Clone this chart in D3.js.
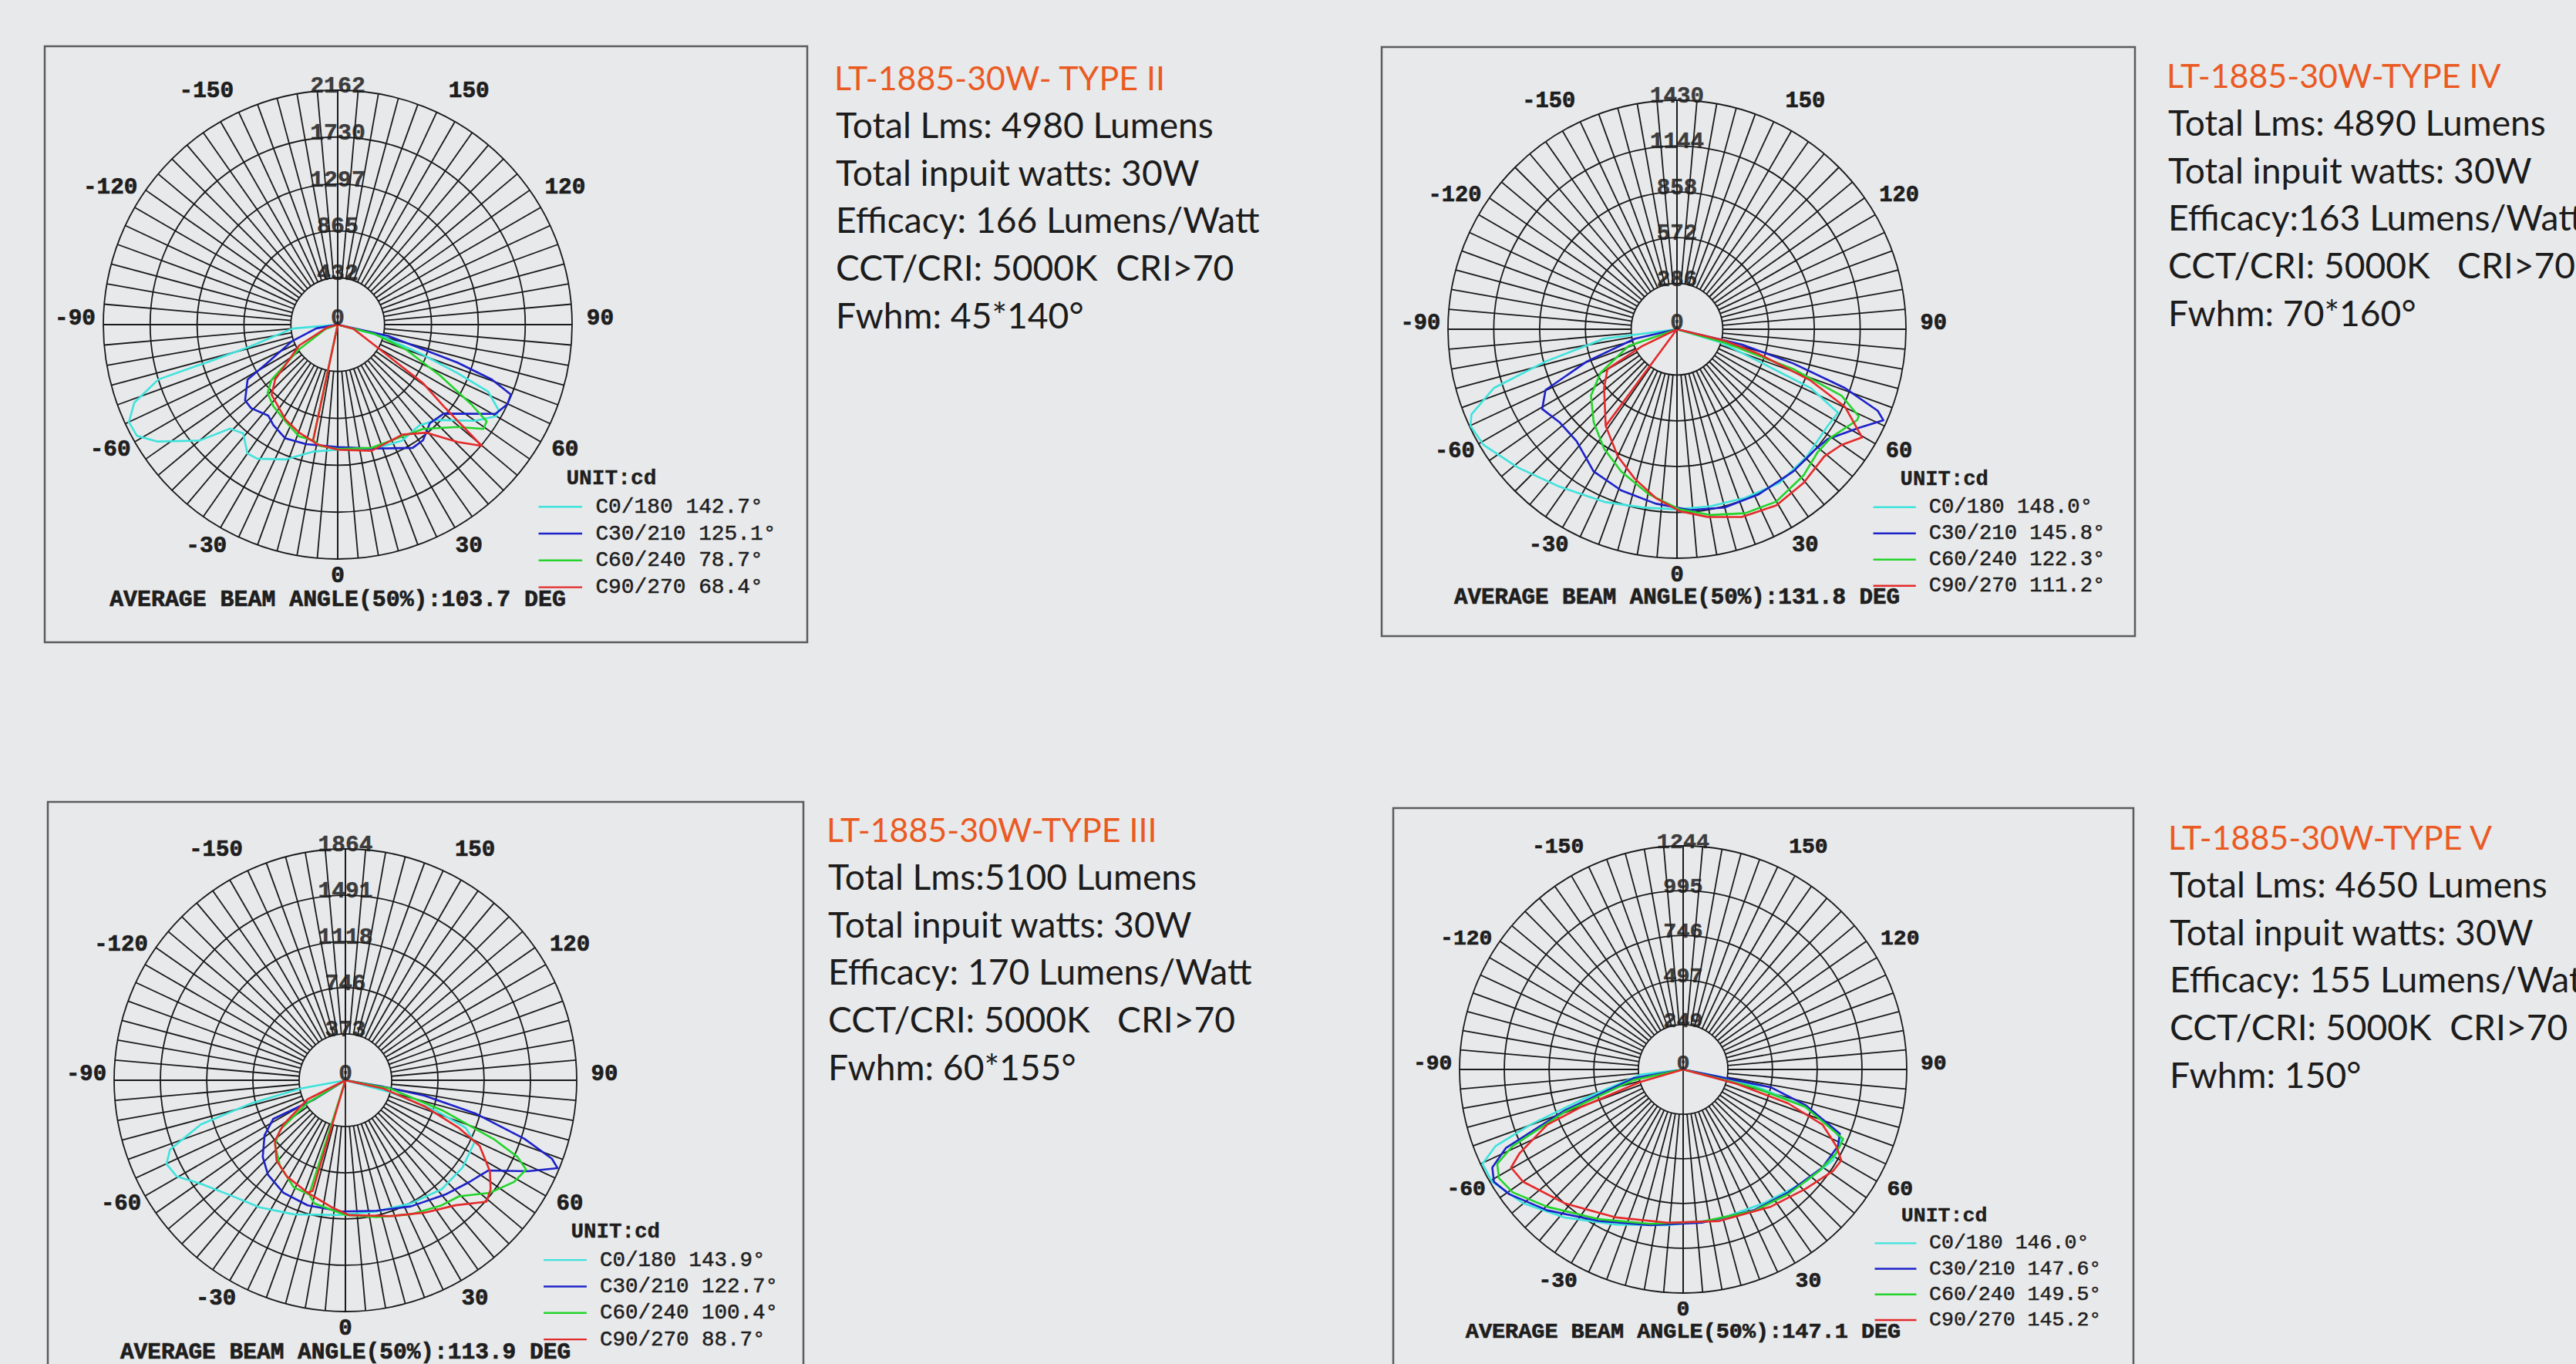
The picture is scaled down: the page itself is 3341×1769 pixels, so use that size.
<!DOCTYPE html>
<html><head><meta charset="utf-8">
<script src="https://cdn.jsdelivr.net/npm/d3@7"></script>
<style>
html,body{margin:0;padding:0;background:#e8e9eb;}
svg{display:block;}
</style>
</head><body>
<svg id="chart" width="3341" height="1769"></svg>
<script>
// ---------------- DATA ----------------
const titles = ["LT-1885-30W- TYPE II", "LT-1885-30W-TYPE IV", "LT-1885-30W-TYPE III", "LT-1885-30W-TYPE V"];
const specLinesII  = ["Total Lms: 4980 Lumens", "Total inpuit watts: 30W", "Efficacy: 166 Lumens/Watt", "CCT/CRI: 5000K  CRI>70", "Fwhm: 45*140°"];
const specLinesIV  = ["Total Lms: 4890 Lumens", "Total inpuit watts: 30W", "Efficacy:163 Lumens/Watt", "CCT/CRI: 5000K   CRI>70", "Fwhm: 70*160°"];
const specLinesIII = ["Total Lms:5100 Lumens", "Total inpuit watts: 30W", "Efficacy: 170 Lumens/Watt", "CCT/CRI: 5000K   CRI>70", "Fwhm: 60*155°"];
const specLinesV   = ["Total Lms: 4650 Lumens", "Total inpuit watts: 30W", "Efficacy: 155 Lumens/Watt", "CCT/CRI: 5000K  CRI>70", "Fwhm: 150°"];

const maxValues = [2162, 1430, 1864, 1244];
const ringLabelsII  = [432, 865, 1297, 1730, 2162];
const ringLabelsIV  = [286, 572, 858, 1144, 1430];
const ringLabelsIII = [373, 746, 1118, 1491, 1864];
const ringLabelsV   = [249, 497, 746, 995, 1244];
const angleTicks = [-150, -120, -90, -60, -30, 0, 30, 60, 90, 120, 150];

const seriesNames = ["C0/180", "C30/210", "C60/240", "C90/270"];
const beamII  = [142.7, 125.1, 78.7, 68.4];
const beamIV  = [148.0, 145.8, 122.3, 111.2];
const beamIII = [143.9, 122.7, 100.4, 88.7];
const beamV   = [146.0, 147.6, 149.5, 145.2];
const averageBeam = [103.7, 131.8, 113.9, 147.1];

// [gamma (deg, 0 = down, + = right), intensity cd]
const typeII_C0 = [[-90,0],[-85,420],[-76,830],[-74,1230],[-73,1730],[-69,2010],[-65,2125],[-61,2117],[-57,1980],[-50,1664],[-46,1381],[-41,1329],[-35,1451],[-31,1443],[-21,1332],[-11,1193],[0,1154],[15,1195],[29,1223],[39,1196],[46,1266],[55,1547],[60,1688],[62,1681],[66,1519],[68,1188],[70.5,836],[75.5,418],[90,0]];
const typeII_C30 = [[-90,0],[-80,200],[-70,450],[-61,767],[-58.6,974],[-50.7,1104],[-46,1110],[-37.4,1056],[-32.6,1101],[-24.7,1155],[-14.8,1140],[0,1130],[16.7,1194],[31.3,1331],[36.4,1326],[43,1245],[50,1277],[60.5,1671],[64.8,1728],[68,1723],[70.4,1510],[72.4,1159],[77.4,481],[90,0]];
const typeII_C60 = [[-12,0],[-12,1091],[-19,1091],[-28.4,1014],[-38.3,958],[-45.8,903],[-50.2,793],[-57.4,422],[-70,120],[-90,0],[90,0],[75.7,354],[70,669],[63.5,1057],[59.2,1434],[57,1639],[54.4,1652],[49.5,1454],[39.3,1243],[30,1192],[15.3,1178],[0,1147],[-8.4,1131],[-12,1091]];
const typeII_C90 = [[-12,0],[-12,1100],[-19.6,1058],[-28.9,999],[-43.3,889],[-48.7,768],[-61.6,404],[-75,100],[-90,0],[90,0],[75,150],[60.7,393],[55.5,956],[52.4,1233],[49.9,1736],[45.6,1548],[39.4,1290],[30.5,1177],[15,1205],[0,1154],[-10,1119],[-12,1100]];

const typeIV_C0 = [[-90,0],[-82.6,459],[-76.2,845],[-72.2,1201],[-67.5,1389],[-64.9,1424],[-59.1,1407],[-49,1316],[-36.8,1227],[-22.9,1170],[-11.1,1134],[0,1125],[10.8,1125],[22,1136],[33.7,1153],[45.7,1135],[57.3,1118],[62.6,1133],[66.3,911],[68.5,550],[73.2,287],[90,0]];
const typeIV_C30 = [[-90,0],[-77.3,269],[-70.3,598],[-65.2,904],[-59.4,978],[-51.7,936],[-41.9,939],[-30.4,1029],[-19.1,1065],[-7,1097],[4.1,1132],[14.9,1152],[26.4,1150],[39.3,1147],[48.5,1143],[53.9,1165],[61.5,1291],[66.2,1409],[67.9,1353],[70.7,1111],[73.6,757],[76.8,415],[90,0]];
const typeIV_C60 = [[-90,0],[-70.8,323],[-60.3,549],[-52.4,678],[-41.9,779],[-31.4,874],[-21.4,954],[-9.7,1045],[0.9,1125],[10.3,1179],[20.3,1225],[29.9,1242],[41,1207],[48.7,1167],[55,1176],[63.2,1260],[64.4,1259],[68,1108],[71.1,768],[74.4,308],[90,0]];
const typeIV_C90 = [[-36,0],[-36.4,750],[-51.1,585],[-60.2,500],[-64.1,244],[-90,0],[90,0],[76.6,305],[73.2,534],[69,893],[65.2,1156],[59.7,1339],[54.9,1256],[49.2,1215],[39.5,1243],[29.4,1263],[19,1240],[9.2,1187],[0.9,1136],[-7.2,1062],[-15.7,971],[-25,875],[-36.4,750]];

const typeIII_C0 = [[-90,0],[-79.5,367],[-76.3,771],[-73,1218],[-68.4,1521],[-64.9,1592],[-60.3,1565],[-54.4,1433],[-45.7,1318],[-34.1,1236],[-21.1,1158],[-2.9,1087],[13.3,1087],[27.9,1124],[41.5,1172],[53.3,1177],[64.3,1154],[68.4,1044],[71.6,760],[75.1,373],[90,0]];
const typeIII_C30 = [[-90,0],[-58.4,293],[-61.8,661],[-55.8,788],[-47.2,908],[-39.3,985],[-28.9,1035],[-16.8,1053],[-1.5,1058],[13.4,1081],[27.4,1145],[41.1,1223],[50.6,1292],[57.7,1361],[63.5,1643],[67.5,1850],[69.2,1780],[71.9,1517],[75.6,1088],[79,650],[80.3,310],[90,0]];
const typeIII_C60 = [[-17.6,0],[-17.6,966],[-25.7,958],[-37.4,868],[-47.8,767],[-52.8,661],[-59.1,355],[-90,0],[90,0],[79.5,367],[72.8,813],[68.4,1283],[66,1518],[63.7,1624],[58.9,1587],[52.1,1476],[44.4,1309],[37.6,1272],[26,1202],[12.8,1131],[0,1086],[-14.1,1024],[-17.6,966]];
const typeIII_C90 = [[-16.5,0],[-16.5,930],[-18.6,956],[-31.3,908],[-40.6,852],[-49.4,748],[-54.5,613],[-63.3,342],[-90,0],[90,0],[77.7,312],[71.7,672],[67.2,993],[63.9,1205],[57.8,1376],[53.1,1463],[49.3,1500],[41.4,1343],[30.9,1243],[18.2,1153],[1.5,1087],[-6.2,1029],[-18.6,956]];

const typeV_C0 = [[-90,0],[-83,241],[-73.4,590],[-70.1,906],[-67.8,1127],[-64.8,1234],[-59.6,1233],[-50.1,1160],[-38.7,1055],[-23.4,940],[-5.7,871],[13.6,857],[31.2,869],[47.4,923],[58.7,975],[65.7,966],[68.6,895],[73,711],[77.2,403],[78.9,205],[90,0]];
const typeV_C30 = [[-90,0],[-79.8,282],[-70.9,699],[-66.1,1079],[-62.8,1194],[-59.3,1224],[-54.3,1190],[-44,1089],[-29.1,965],[-11.9,885],[7,859],[26.6,876],[40.5,900],[54.9,948],[63.7,961],[67.7,942],[73.8,708],[78.5,498],[90,0]];
const typeV_C60 = [[-90,0],[-77.9,284],[-70.2,702],[-65.8,1040],[-63.1,1160],[-59.4,1190],[-54.2,1169],[-44.7,1075],[-29.4,956],[-12,878],[7.1,853],[26.5,880],[40.1,907],[53.2,944],[61.3,971],[66.5,971],[73,711],[75.8,405],[90,0]];
const typeV_C90 = [[-90,0],[-73.8,249],[-69.8,602],[-67.9,816],[-62.9,1022],[-60.3,1102],[-55,1088],[-41.6,995],[-24.4,904],[-5.8,857],[13.4,867],[32.6,906],[45.7,951],[55.8,1007],[60.1,1015],[63.4,953],[68.4,834],[72.1,614],[75,307],[90,0]];

// ---------------- LAYOUT / STYLE ----------------
const seriesColors = ["#3ee3dc", "#1c22c8", "#22d42a", "#e42a2a"];
const panels = [
  {box:[58,60,1047,833],   cx:438,  cy:421,  R:304, tx:1082, ty:117, title:titles[0], lines:specLinesII,  rings:ringLabelsII,  beams:beamII,  series:[typeII_C0,typeII_C30,typeII_C60,typeII_C90]},
  {box:[1792,61,2769,825], cx:2175, cy:427,  R:297, tx:2810, ty:114, title:titles[1], lines:specLinesIV,  rings:ringLabelsIV,  beams:beamIV,  series:[typeIV_C0,typeIV_C30,typeIV_C60,typeIV_C90]},
  {box:[62,1040,1042,1780],cx:448,  cy:1401, R:300, tx:1072, ty:1092,title:titles[2], lines:specLinesIII, rings:ringLabelsIII, beams:beamIII, series:[typeIII_C0,typeIII_C30,typeIII_C60,typeIII_C90]},
  {box:[1807,1048,2767,1780],cx:2183,cy:1387, R:290, tx:2812, ty:1102,title:titles[3], lines:specLinesV,   rings:ringLabelsV,   beams:beamV,   series:[typeV_C0,typeV_C30,typeV_C60,typeV_C90]}
];
const lineStep = 61.8;
const monoFont = "'Liberation Mono','Courier New',monospace";
const textFont = "Lato,'Open Sans','Noto Sans',sans-serif";

const svg = d3.select("#chart");
svg.append("rect").attr("width",3341).attr("height",1769).attr("fill","#e8e9eb");

function measure(str, size, weight) {
  const t = svg.append("text").attr("font-family", textFont).attr("font-size", size)
    .attr("font-weight", weight).style("white-space","pre").text(str);
  const w = t.node().getComputedTextLength(); t.remove(); return w;
}
const bodySize = 100 * 490 / measure(specLinesII[0], 100, 400);
const titleSize = 100 * 429 / measure(titles[0], 100, 400);

function boldMono(sel, size) {
  return sel.attr("font-family", monoFont).attr("font-weight","bold").attr("font-size", size)
    .attr("fill","#1e1e1e").attr("stroke","#1e1e1e").attr("stroke-width", 0.7)
    .style("white-space","pre");
}

panels.forEach((p, pi) => {
  const g = svg.append("g");
  const s = p.R / 300;
  const max = maxValues[pi];
  const rScale = d3.scaleLinear().domain([0, max]).range([0, p.R]);

  g.append("rect").attr("x", p.box[0]).attr("y", p.box[1])
    .attr("width", p.box[2]-p.box[0]).attr("height", p.box[3]-p.box[1])
    .attr("fill", "none").attr("stroke", "#5c5c5c").attr("stroke-width", 2.5);

  const pg = g.append("g").attr("transform", `translate(${p.cx},${p.cy})`);
  const ringVals = p.rings;
  pg.selectAll("circle.ring").data(ringVals).join("circle")
    .attr("r", d => rScale(d)).attr("fill", "none").attr("stroke", "#1a1a1a").attr("stroke-width", 1.8);
  const spokes = d3.range(-180, 180, 5);
  pg.selectAll("line.spoke").data(spokes).join("line")
    .attr("x1", d => rScale(ringVals[0]) * Math.sin(d*Math.PI/180))
    .attr("y1", d => rScale(ringVals[0]) * Math.cos(d*Math.PI/180))
    .attr("x2", d => p.R * Math.sin(d*Math.PI/180))
    .attr("y2", d => p.R * Math.cos(d*Math.PI/180))
    .attr("stroke", "#1a1a1a").attr("stroke-width", 1.8);
  pg.append("line").attr("x1",0).attr("x2",0).attr("y1",-p.R).attr("y2",p.R)
    .attr("stroke","#1a1a1a").attr("stroke-width",1.8);

  const radial = d3.lineRadial()
    .angle(d => Math.PI - d[0]*Math.PI/180)
    .radius(d => rScale(d[1]));
  p.series.forEach((ser, si) => {
    pg.append("path").attr("d", radial(ser)).attr("fill","none")
      .attr("stroke", seriesColors[si]).attr("stroke-width", 2.6)
      .attr("stroke-linejoin","round");
  });

  const rl = [0].concat(ringVals);
  boldMono(pg.selectAll("text.rl").data(rl).join("text"), 29.5*s)
    .attr("x", 0).attr("y", d => -rScale(d) + (d === 0 ? 0 : 3*s))
    .attr("text-anchor","middle").attr("fill-opacity",0.85).attr("stroke-opacity",0.6)
    .text(d => d);

  boldMono(pg.selectAll("text.al").data(angleTicks).join("text"), 29*s)
    .attr("x", d => 1.12*p.R*Math.sin(d*Math.PI/180))
    .attr("y", d => 1.12*p.R*Math.cos(d*Math.PI/180) - 0.025*p.R - (d===0 ? 0.02*p.R : 0))
    .attr("text-anchor","middle").attr("dominant-baseline","central")
    .text(d => d);

  boldMono(pg.append("text"), 27.5*s).attr("x", 0.975*p.R).attr("y", 0.655*p.R)
    .attr("dominant-baseline","central").attr("stroke-width",0.4).text("UNIT:cd");
  seriesNames.forEach((nm, si) => {
    const y = p.R*(0.777 + si*0.1145);
    pg.append("line").attr("x1", 0.857*p.R).attr("x2", 1.043*p.R).attr("y1", y).attr("y2", y)
      .attr("stroke", seriesColors[si]).attr("stroke-width", 2.4);
    pg.append("text").attr("x", 1.10*p.R).attr("y", y).attr("dominant-baseline","central")
      .attr("font-family", monoFont).attr("font-size", 27.5*s).attr("fill","#1e1e1e")
      .attr("stroke","#1e1e1e").attr("stroke-width",0.5)
      .style("white-space","pre")
      .text(nm + " " + p.beams[si].toFixed(1) + "°");
  });
  boldMono(pg.append("text"), 29.5*s).attr("x", 0).attr("y", 1.175*p.R).attr("text-anchor","middle")
    .attr("dominant-baseline","central")
    .text("AVERAGE BEAM ANGLE(50%):" + averageBeam[pi].toFixed(1) + " DEG");

  g.append("text").attr("x", p.tx).attr("y", p.ty).attr("font-family", textFont)
    .attr("font-size", titleSize).attr("fill", "#ea5a22").style("white-space","pre").text(p.title);
  p.lines.forEach((ln, li) => {
    g.append("text").attr("x", p.tx + 2).attr("y", p.ty + (li+1)*lineStep)
      .attr("font-family", textFont).attr("font-size", bodySize).attr("fill", "#1c1c1c")
      .style("white-space","pre").text(ln);
  });
});
</script>
</body></html>
